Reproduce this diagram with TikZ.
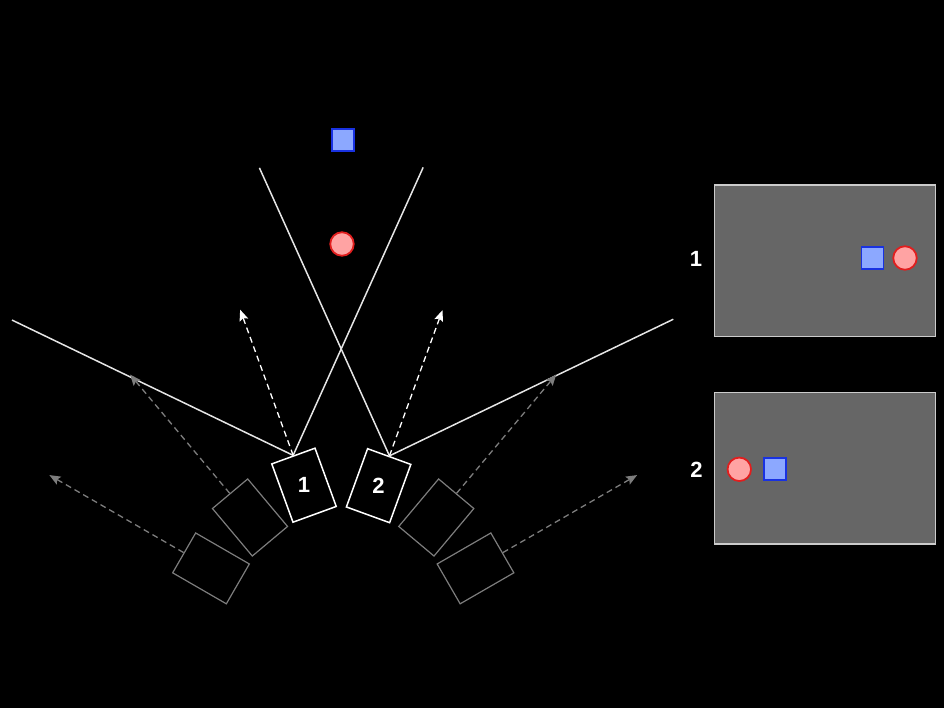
\documentclass[tikz,border=0pt]{standalone}
\usepackage{fontspec}
\setmainfont{Liberation Sans}
\usepackage{tikz}
\usetikzlibrary{calc, arrows.meta}
\usepackage{xcolor}
\definecolor{objblue}{RGB}{140,168,255}
\definecolor{objblueline}{RGB}{25,50,225}
\definecolor{objred}{RGB}{255,163,163}
\definecolor{objredline}{RGB}{225,30,30}
\definecolor{screengray}{RGB}{102,102,102}
\definecolor{ghostgray}{RGB}{125,125,125}
\tikzset{
    camera/.style={draw=white, line width=1.5pt, minimum width=46pt, minimum height=62pt, inner sep=0pt},
    ghost/.style={draw=ghostgray, line width=1.2pt, minimum width=46pt, minimum height=62pt, inner sep=0pt},
    camnum/.style={text=white, inner sep=0pt, font=\bfseries\fontsize{22}{26}\selectfont},
    ray/.style={draw=white!90!black, line width=1.5pt},
    aim/.style={draw=white, line width=1.3pt, dash pattern=on 6pt off 4pt, -{Stealth[length=11pt, width=9pt, inset=2pt]}},
    ghostaim/.style={aim, draw=ghostgray},
    objbox/.style={rectangle, draw=objblueline, fill=objblue, line width=1.8pt, minimum size=22pt, inner sep=0pt},
    objball/.style={circle, draw=objredline, fill=objred, line width=1.8pt, minimum size=23.5pt, inner sep=0pt},
    screen/.style={draw=white!80!black, fill=screengray, line width=1.4pt, minimum width=221pt, minimum height=151.5pt, inner sep=0pt}
}

\begin{document}
\begin{tikzpicture}[x=1pt, y=1pt]
    \fill[black] (0,0) rectangle (944,708);
    \useasboundingbox (0,0) rectangle (944,708);

    \node[objbox] (sq) at (343,568) {};
    \node[objball] (ball) at (342,464) {};

    \node[camera, rotate=20] (cam1) at (304,222.8) {};
    \node[camera, rotate=-20] (cam2) at (378.6,222.3) {};
    \node[camnum] (num1) at (cam1.center) {1};
    \node[camnum] (num2) at (cam2.center) {2};

    \foreach \n/\x/\y/\r in {camA/250/190.5/40, camB/211/139.6/60, camC/436.3/190.5/-40, camD/475.5/139.6/-60}
        \node[ghost, rotate=\r] (\n) at (\x,\y) {};

    \coordinate (cam1-l) at ($(cam1.north)+(154.3:312)$);
    \coordinate (cam1-r) at ($(cam1.north)+(65.7:316)$);
    \coordinate (cam2-l) at ($(cam2.north)+(114.3:316)$);
    \coordinate (cam2-r) at ($(cam2.north)+(25.7:315)$);
    \draw[ray] (cam1-l) -- (cam1.north) -- (cam1-r);
    \draw[ray] (cam2-l) -- (cam2.north) -- (cam2-r);

    \foreach \n/\a in {cam1/110, cam2/70} {
        \coordinate (\n-aim) at ($(\n.north)+(\a:155)$);
        \draw[aim] (\n.north) -- (\n-aim);
    }
    \foreach \n/\a in {camA/130, camB/150, camC/50, camD/30} {
        \coordinate (\n-aim) at ($(\n.north)+(\a:155)$);
        \draw[ghostaim] (\n.north) -- (\n-aim);
    }

    \node[screen] (screen1) at (825,447.2) {};
    \node[screen] (screen2) at (825,239.6) {};
    \node[camnum] (snum1) at (696,449) {1};
    \node[camnum] (snum2) at (696.5,238.5) {2};
    \node[objbox] (sq1) at (872.4,450) {};
    \node[objball] (ball1) at (905,450) {};
    \node[objball] (ball2) at (739.3,238.7) {};
    \node[objbox] (sq2) at (774.7,239) {};
\end{tikzpicture}
\end{document}
